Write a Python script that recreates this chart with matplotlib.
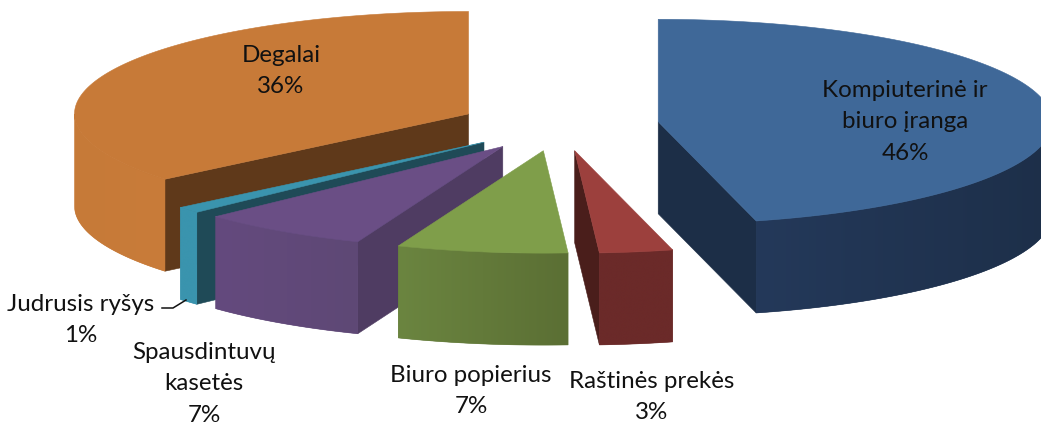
import numpy as np
import matplotlib
matplotlib.use("Agg")
import matplotlib.pyplot as plt
from matplotlib.colors import to_rgb
from matplotlib.patches import Polygon

categories = ["Kompiuterinė ir\nbiuro įranga", "Raštinės prekės", "Biuro popierius",
              "Spausdintuvų\nkasetės", "Judrusis ryšys", "Degalai"]
values = [46, 3, 7, 7, 1, 36]
top_colors = ["#3F6898", "#9C403D", "#7F9E4A", "#6A4E85", "#3A94AE", "#C77A38"]
side_left = ["#24395A", "#6B2A29", "#6B8540", "#644A7E", "#3A94AE", "#C67A38"]
side_right = ["#1D2F49", "#6B2A29", "#5B6F34", "#5E4875", "#3A94AE", "#C97C3A"]
face_colors = ["#1C2E47", "#4A1E1B", "#5B6F34", "#4F3C62", "#1F4A57", "#5F391A"]
label_pos = [(905, 122), (652, 397), (471, 391), (204, 384), (81, 320), (281, 71)]
draw_order = [5, 4, 3, 2, 1, 0]

CX, CY = 559.0, 125.0
R, SQ, DEPTH, EXPLODE = 394.0, 0.26, 92.0, 100.0

fig = plt.figure(figsize=(10.41, 4.26), dpi=100)
ax = fig.add_axes([0, 0, 1, 1])
ax.set_autoscale_on(False)
ax.axis("off")


def pt(deg, r=R):
    a = np.radians(deg)
    return np.sin(a) * r, -np.cos(a) * r * SQ


def fill(points, color, z):
    p = Polygon(points, closed=True, fc=color, ec=color, lw=0.4, zorder=z)
    ax.add_patch(p)
    return p


edges = np.concatenate([[0], np.cumsum(values)]) * 360.0 / sum(values)
for rank, i in enumerate(draw_order):
    a0, a1 = edges[i], edges[i + 1]
    mid = (a0 + a1) / 2
    ox, oy = pt(mid, EXPLODE)
    ax0, ay0 = CX + ox, CY + oy
    z = rank * 10 + 1
    angles = np.linspace(a0, a1, 160)
    xs, ys = pt(angles)
    xs, ys = xs + ax0, ys + ay0
    # visible radial cut faces
    for ang, show in ((a0, 180 < a0 < 360), (a1, 0 < a1 < 180)):
        if show:
            px, py = pt(ang)
            fill([(ax0, ay0), (ax0 + px, ay0 + py), (ax0 + px, ay0 + py + DEPTH),
                  (ax0, ay0 + DEPTH)], face_colors[i], z)
    # curved outer wall with a horizontal gradient
    lo, hi = max(a0, 90), min(a1, 270)
    if hi > lo:
        wa = np.linspace(lo, hi, 80)
        wx, wy = pt(wa)
        wx, wy = wx + ax0, wy + ay0
        c1, c2 = np.array(to_rgb(side_left[i])), np.array(to_rgb(side_right[i]))
        outline = np.vstack([np.column_stack([wx, wy]),
                             np.column_stack([wx[::-1], wy[::-1] + DEPTH])])
        wall = fill(outline, tuple((c1 + c2) / 2), z + 1)
        t = np.linspace(0, 1, 256)[None, :, None]
        grad = c1[None, None, :] + (c2 - c1)[None, None, :] * t
        im = ax.imshow(grad, extent=(wx.min(), wx.max(), wy.max() + DEPTH, wy.min()),
                       aspect="auto", zorder=z + 1.5, interpolation="bilinear")
        im.set_clip_path(wall)
    # top surface
    fill(np.vstack([[ax0, ay0], np.column_stack([xs, ys])]), top_colors[i], z + 2)

ax.plot([162, 173, 186], [308, 308, 300], color="#111111", lw=1.1, zorder=200)

for name, v, (x, y) in zip(categories, values, label_pos):
    ax.text(x, y, f"{name}\n{v}%", ha="center", va="center", family="Lato", fontsize=17.4,
            color="#111111", linespacing=1.6, zorder=300)

ax.set_xlim(0, 1041)
ax.set_ylim(426, 0)
fig.savefig("out.png", dpi=100)
